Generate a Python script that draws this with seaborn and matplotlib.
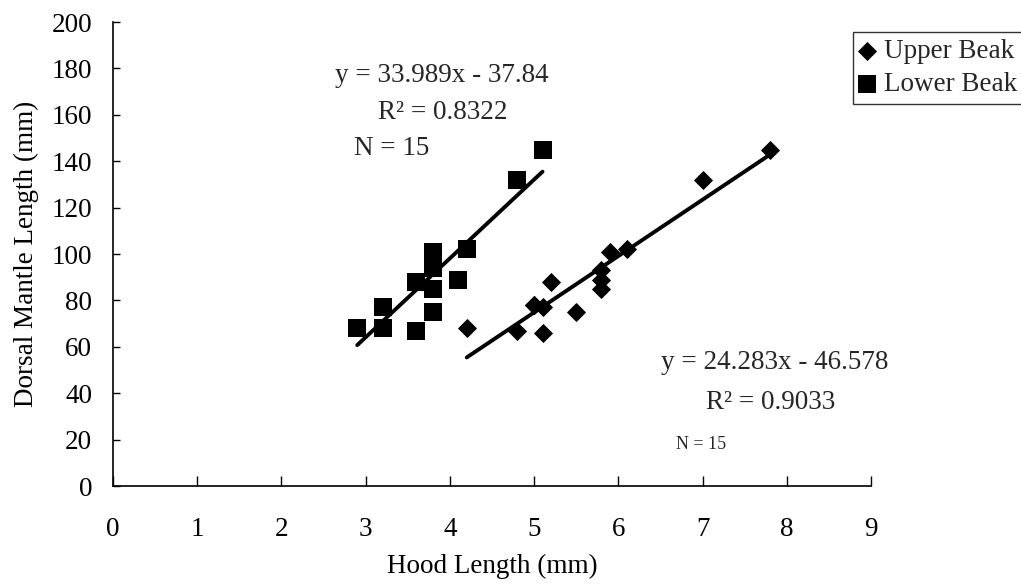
import matplotlib
matplotlib.use("Agg")
import matplotlib.pyplot as plt
import numpy as np
import pandas as pd
import seaborn as sns

# Hood length (mm) vs dorsal mantle length (mm)
upper_hood = [4.2, 4.8, 5.0, 5.0, 5.1, 5.1, 5.2, 5.5, 5.8, 5.8, 5.8, 5.9, 6.1, 7.0, 7.8]
upper_dml = [68, 67, 78, 78, 77, 66, 88, 75, 93, 89, 85, 101, 102, 132, 145]
lower_hood = [2.9, 3.2, 3.2, 3.6, 3.6, 3.6, 3.8, 3.8, 3.8, 3.8, 4.1, 4.2, 4.2, 4.8, 5.1]
lower_dml = [68, 77, 68, 88, 88, 67, 101, 94, 85, 75, 89, 102, 102, 132, 145]

# trend lines as printed on the chart
upper_fit = (24.283, -46.578)
lower_fit = (33.989, -37.84)

upper_df = pd.DataFrame({"hood": upper_hood, "dml": upper_dml})
lower_df = pd.DataFrame({"hood": lower_hood, "dml": lower_dml})

sns.set_style("ticks")
plt.rcParams["font.family"] = ["Liberation Serif", "DejaVu Serif"]
FS = 19.5

fig = plt.figure(figsize=(10.21, 5.87), dpi=100)
ax = fig.add_axes([113 / 1021, 1 - 486 / 587, 758 / 1021, 464 / 587])

sns.scatterplot(data=upper_df, x="hood", y="dml", marker="D", s=95, color="black",
                edgecolor="black", linewidth=0, label="Upper Beak", ax=ax)
sns.scatterplot(data=lower_df, x="hood", y="dml", marker="s", s=150, color="black",
                edgecolor="black", linewidth=0, label="Lower Beak", ax=ax)

# regression lines over each group's range
for df, (m, b) in [(upper_df, upper_fit), (lower_df, lower_fit)]:
    xs = np.array([df["hood"].min(), df["hood"].max()])
    ax.plot(xs, m * xs + b, color="black", lw=2.8, zorder=1)

ax.text(3.91, 177, "y = 33.989x - 37.84", fontsize=FS, ha="center", va="center")
ax.text(3.91, 161, "R² = 0.8322", fontsize=FS, ha="center", va="center")
ax.text(3.31, 145.5, "N = 15", fontsize=FS, ha="center", va="center")
ax.text(7.86, 53.4, "y = 24.283x - 46.578", fontsize=FS, ha="center", va="center")
ax.text(7.81, 35.8, "R² = 0.9033", fontsize=FS, ha="center", va="center")
ax.text(6.98, 17.7, "N = 15", fontsize=13, ha="center", va="center")

ax.set_xlim(0, 9)
ax.set_ylim(0, 200)
ax.set_xticks(range(0, 10))
ax.set_yticks(range(0, 201, 20))
ax.tick_params(axis="x", direction="in", length=7, width=1, pad=22.5, labelsize=FS, colors="black")
ax.tick_params(axis="y", direction="in", length=5, width=1, pad=15, labelsize=FS, colors="black")
sns.despine(ax=ax)
for side in ["left", "bottom"]:
    ax.spines[side].set_color("black")
    ax.spines[side].set_linewidth(1.2)

ax.set_xlabel("Hood Length (mm)", fontsize=FS, color="black")
ax.set_ylabel("Dorsal Mantle Length (mm)", fontsize=FS, color="black")
ax.xaxis.set_label_coords(0.5, -0.147)
ax.yaxis.set_label_coords(-0.098, 0.5)

leg = ax.legend(loc="upper left", bbox_to_anchor=(853 / 1021, 1 - 32 / 587),
                bbox_transform=fig.transFigure, fontsize=FS, frameon=True,
                fancybox=False, handlelength=0.5, handletextpad=0.4,
                borderpad=0.25, labelspacing=0.3, borderaxespad=0)
leg.get_frame().set_edgecolor("black")
leg.get_frame().set_linewidth(1.0)

fig.savefig("out.png", dpi=100)
